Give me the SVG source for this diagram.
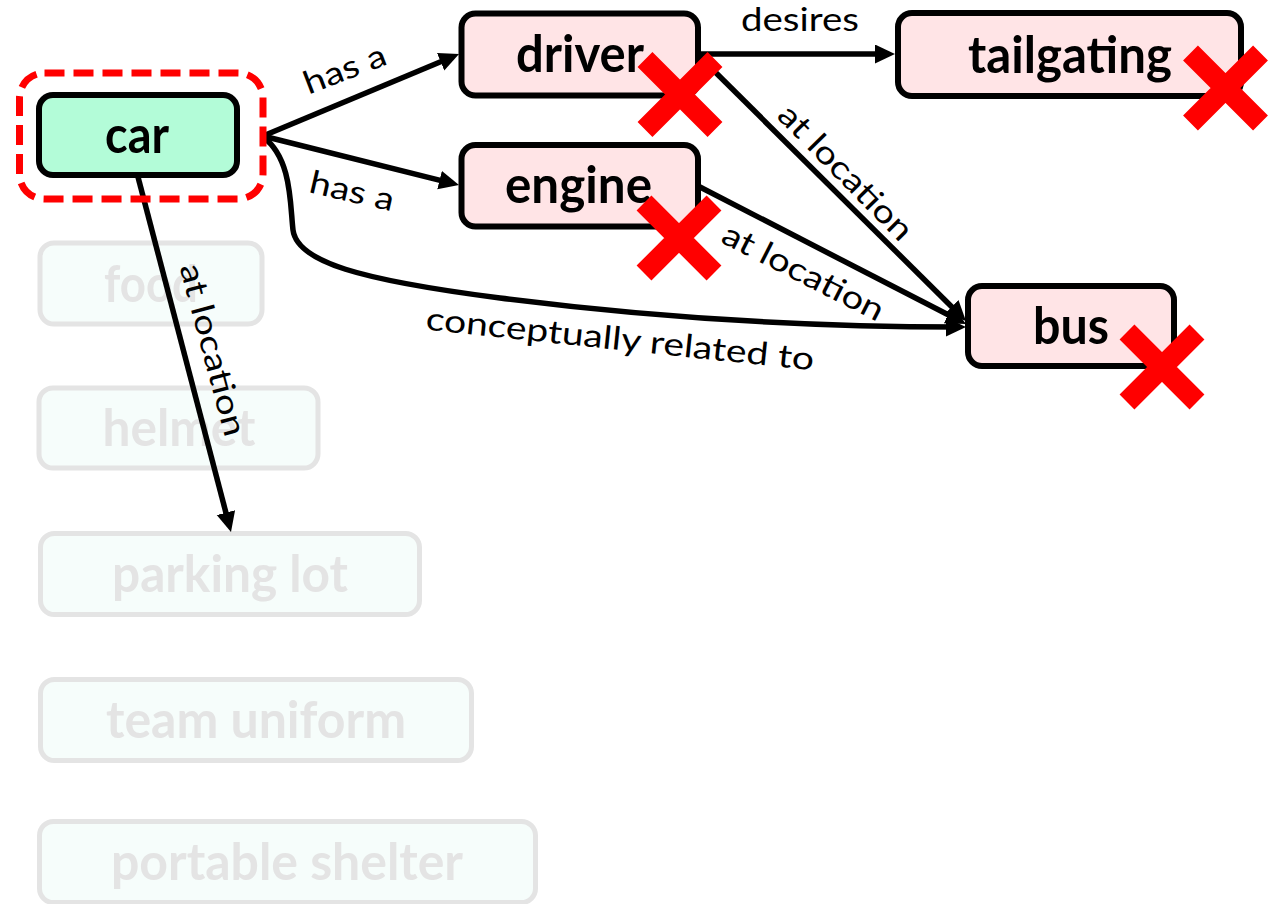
<svg xmlns="http://www.w3.org/2000/svg" width="1276" height="904" viewBox="0 0 1276 904">
  <style>
    .node rect { stroke: #000; stroke-width: 6; }
    .hot rect { fill: #ffe4e6; }
    .seed rect { fill: #b3fcd8; }
    .faded rect { fill: #f6fdfb; stroke: #e4e4e4; stroke-width: 5; }
    .node text { font-family: Lato, "Liberation Sans", sans-serif; font-weight: 700; font-size: 51px; fill: #000; text-anchor: middle; }
    .faded text { fill: #e4e4e4; }
    .edge { fill: none; stroke: #000; stroke-width: 5.5; }
    .lbl { font-family: Lato, "Liberation Sans", sans-serif; font-size: 32px; fill: #000; text-anchor: middle; }
    .cross { stroke: #ff0000; stroke-width: 21; stroke-linecap: butt; fill: none; }
    .focus { fill: none; stroke: #ff0000; stroke-width: 7; stroke-dasharray: 20 9; }
  </style>
  <defs>
    <marker id="arrow" markerUnits="userSpaceOnUse" markerWidth="22" markerHeight="22" refX="13" refY="9.5" orient="auto">
      <path d="M0,0 L20,9.5 L0,19 z" fill="#000"/>
    </marker>
  </defs>

  <rect width="1276" height="904" fill="#fff"/>

  <!-- candidate nodes, greyed out -->
  <g id="food" class="node faded">
    <rect x="40" y="243" width="222" height="81" rx="14"/>
    <text x="151" y="302" textLength="94" lengthAdjust="spacingAndGlyphs">food</text>
  </g>
  <g id="helmet" class="node faded">
    <rect x="39" y="388" width="279" height="80" rx="14"/>
    <text x="179" y="446" textLength="153" lengthAdjust="spacingAndGlyphs">helmet</text>
  </g>
  <g id="parking-lot" class="node faded">
    <rect x="40.5" y="533.5" width="379" height="81" rx="14"/>
    <text x="230" y="592" textLength="236" lengthAdjust="spacingAndGlyphs">parking lot</text>
  </g>
  <g id="team-uniform" class="node faded">
    <rect x="40.5" y="679.5" width="431" height="81" rx="14"/>
    <text x="256" y="738" textLength="300" lengthAdjust="spacingAndGlyphs">team uniform</text>
  </g>
  <g id="portable-shelter" class="node faded">
    <rect x="39.5" y="821.5" width="496" height="81" rx="14"/>
    <text x="287" y="880" textLength="352" lengthAdjust="spacingAndGlyphs">portable shelter</text>
  </g>

  <!-- relations -->
  <g id="connectors">
    <path class="edge" d="M263,136 L452.6,56.7" marker-end="url(#arrow)"/>
    <path class="edge" d="M263,136 L452.2,183.3" marker-end="url(#arrow)"/>
    <path class="edge" d="M263,137 C292,158 290,205 293,230 C297,262 360,280 500,298 C640,316 800,327 959,327" marker-end="url(#arrow)"/>
    <path class="edge" d="M138,177 L229.2,525.2" marker-end="url(#arrow)"/>
    <path class="edge" d="M698,54 L888,54" marker-end="url(#arrow)"/>
    <path class="edge" d="M698,55 L961,316" marker-end="url(#arrow)"/>
    <path class="edge" d="M698,186 L959.8,320.8" marker-end="url(#arrow)"/>

    <text class="lbl" transform="translate(345,70) rotate(-21)" y="10" textLength="86" lengthAdjust="spacingAndGlyphs">has a</text>
    <text class="lbl" transform="translate(352,192) rotate(13)" y="10" textLength="86" lengthAdjust="spacingAndGlyphs">has a</text>
    <text class="lbl" transform="translate(620,340) rotate(6)" y="10" textLength="390" lengthAdjust="spacingAndGlyphs">conceptually related to</text>
    <text class="lbl" transform="translate(212,350) rotate(75)" y="10" textLength="177" lengthAdjust="spacingAndGlyphs">at location</text>
    <text class="lbl" x="800" y="31" textLength="118" lengthAdjust="spacingAndGlyphs">desires</text>
    <text class="lbl" transform="translate(845,173) rotate(45.5)" y="10" textLength="177" lengthAdjust="spacingAndGlyphs">at location</text>
    <text class="lbl" transform="translate(803,273) rotate(27)" y="10" textLength="177" lengthAdjust="spacingAndGlyphs">at location</text>
  </g>

  <!-- seed concept -->
  <g id="car" class="node seed">
    <rect x="39" y="95" width="198" height="80" rx="14"/>
    <text x="137" y="153" textLength="64" lengthAdjust="spacingAndGlyphs">car</text>
  </g>

  <!-- retrieved concepts -->
  <g id="driver" class="node hot">
    <rect x="461.5" y="13.5" width="236.5" height="82" rx="14"/>
    <text x="580" y="72" textLength="128" lengthAdjust="spacingAndGlyphs">driver</text>
  </g>
  <g id="engine" class="node hot">
    <rect x="461.5" y="145" width="236.5" height="81.5" rx="14"/>
    <text x="578.5" y="203" textLength="147" lengthAdjust="spacingAndGlyphs">engine</text>
  </g>
  <g id="tailgating" class="node hot">
    <rect x="898" y="13" width="343" height="83" rx="14"/>
    <text x="1070" y="73" textLength="204" lengthAdjust="spacingAndGlyphs">tailgating</text>
  </g>
  <g id="bus" class="node hot">
    <rect x="968" y="286" width="206" height="80" rx="14"/>
    <text x="1071" y="344" textLength="76" lengthAdjust="spacingAndGlyphs">bus</text>
  </g>

  <!-- rejection marks -->
  <g id="rejections">
    <path class="cross" d="M645,59.5 L715,129.5 M715,59.5 L645,129.5"/>
    <path class="cross" d="M644,203 L714,273 M714,203 L644,273"/>
    <path class="cross" d="M1190.5,53 L1260.5,123 M1260.5,53 L1190.5,123"/>
    <path class="cross" d="M1127,332 L1197,402 M1197,332 L1127,402"/>
  </g>

  <!-- focus highlight around the seed -->
  <rect id="focus" class="focus" x="19.5" y="73" width="243.5" height="126" rx="25"/>
</svg>
